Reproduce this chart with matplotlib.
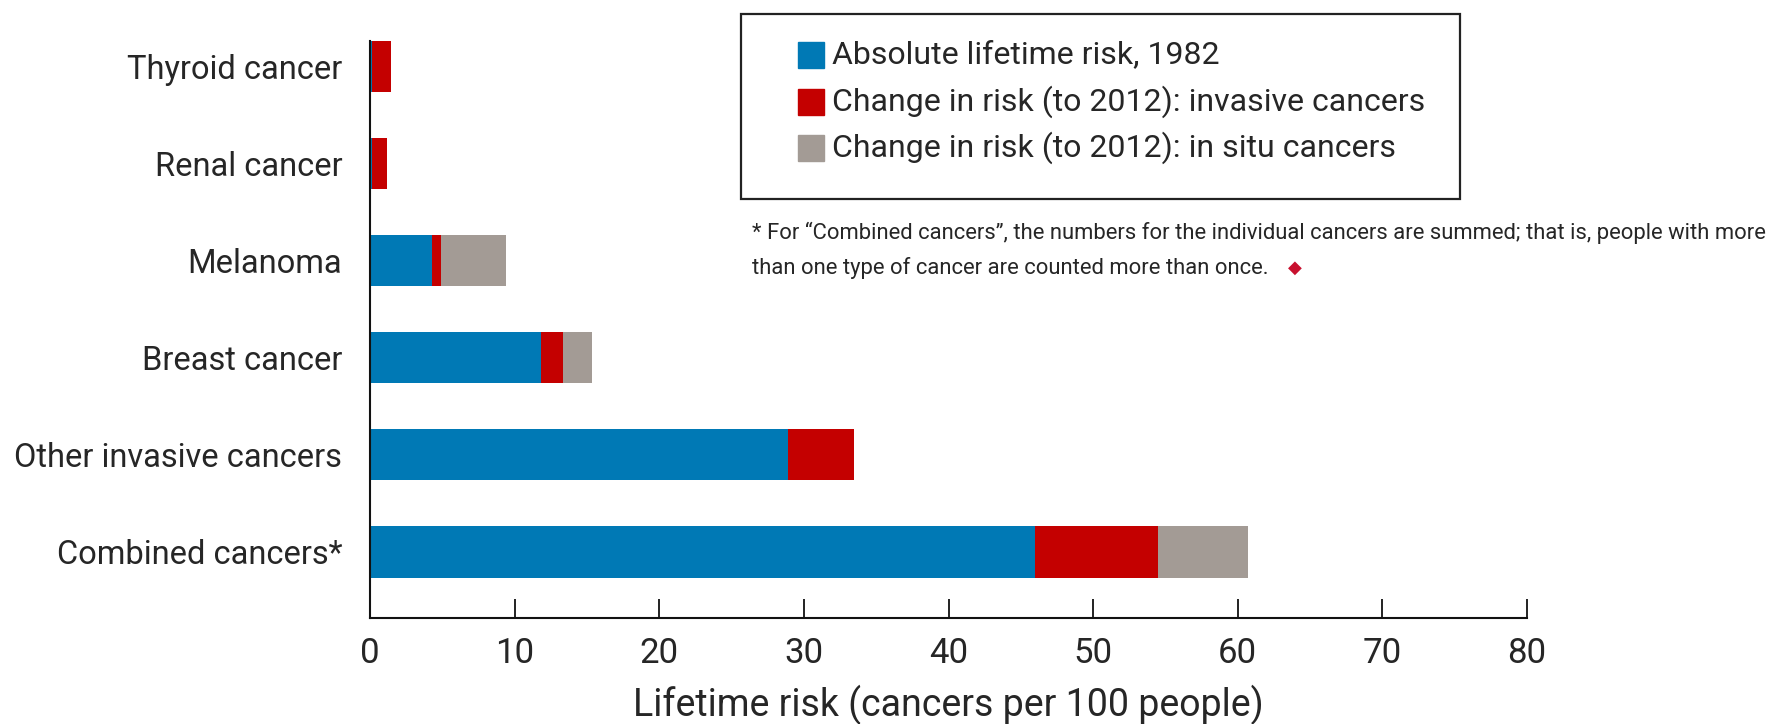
import matplotlib
matplotlib.use("Agg")
import matplotlib.pyplot as plt
from matplotlib.patches import Rectangle

plt.rcParams['font.family'] = ['Roboto', 'DejaVu Sans']

# Lifetime risk per 100 people
categories = ["Combined cancers*", "Other invasive cancers", "Breast cancer",
              "Melanoma", "Renal cancer", "Thyroid cancer"]
risk_1982 = [46.0, 28.9, 11.8, 4.3, 0.15, 0.15]
change_invasive = [8.5, 4.6, 1.55, 0.6, 1.0, 1.3]
change_in_situ = [6.2, 0.0, 2.0, 4.5, 0.0, 0.0]

series_labels = ["Absolute lifetime risk, 1982",
                 "Change in risk (to 2012): invasive cancers",
                 "Change in risk (to 2012): in situ cancers"]
xticks = [0, 10, 20, 30, 40, 50, 60, 70, 80]

BLUE = "#0079b5"
RED = "#c40000"
GREY = "#a39b95"
TEXT = "#262626"

W, H = 1775, 724
fig = plt.figure(figsize=(W / 100, H / 100), dpi=100)
ax = fig.add_axes([370 / W, 106 / H, (1527 - 370) / W, (618 - 40.7) / H])

y = list(range(len(categories)))
bh = 0.53
left2 = [a + b for a, b in zip(risk_1982, change_invasive)]
ax.barh(y, risk_1982, height=bh, color=BLUE, label=series_labels[0])
ax.barh(y, change_invasive, left=risk_1982, height=bh, color=RED, label=series_labels[1])
ax.barh(y, change_in_situ, left=left2, height=bh, color=GREY, label=series_labels[2])

ax.set_xlim(0, 80)
ax.set_ylim(-0.682, 5 + bh / 2)
ax.set_yticks(y)
ax.set_yticklabels(categories, fontsize=23.5, color=TEXT)
ax.tick_params(axis='y', length=0, pad=20)
ax.set_xticks(xticks)
ax.set_xticklabels([str(t) for t in xticks], fontsize=25, color=TEXT)
ax.tick_params(axis='x', direction='in', length=14, width=1.3, pad=14, color="#111111")
ax.set_xlabel("Lifetime risk (cancers per 100 people)", fontsize=27, color=TEXT, labelpad=10)

for side in ("top", "right"):
    ax.spines[side].set_visible(False)
for side in ("left", "bottom"):
    ax.spines[side].set_linewidth(1.5)
    ax.spines[side].set_color("#111111")

# Legend box drawn in figure coordinates
fig.patches.append(Rectangle((741 / W, 1 - 199 / H), (1460 - 741) / W, (199 - 14) / H,
                             transform=fig.transFigure, fill=False, edgecolor="#222222",
                             linewidth=1.6))
rows_y = [55, 102, 148]
for ypix, col, lab in zip(rows_y, [BLUE, RED, GREY], series_labels):
    fig.patches.append(Rectangle((798 / W, 1 - (ypix + 13) / H), 26 / W, 26 / H,
                                 transform=fig.transFigure, color=col))
    fig.text(832 / W, 1 - ypix / H, lab, fontsize=23, color=TEXT, va='center', ha='left')

fig.text(752 / W, 1 - 233 / H,
         "* For \u201cCombined cancers\u201d, the numbers for the individual cancers are summed; that is, people with more",
         fontsize=15.8, color=TEXT, va='center', ha='left')
note2 = fig.text(752 / W, 1 - 268 / H, "than one type of cancer are counted more than once.",
                 fontsize=15.8, color=TEXT, va='center', ha='left')
# End-of-note marker placed just after the second line
ax.annotate("\u25c6", xy=(1, 0.5), xycoords=note2, xytext=(14, 0), textcoords="offset points",
            fontsize=13, color="#c8102e", va='center', ha='left', family=['DejaVu Sans'],
            annotation_clip=False)

fig.savefig("out.png", dpi=100, facecolor="white")
